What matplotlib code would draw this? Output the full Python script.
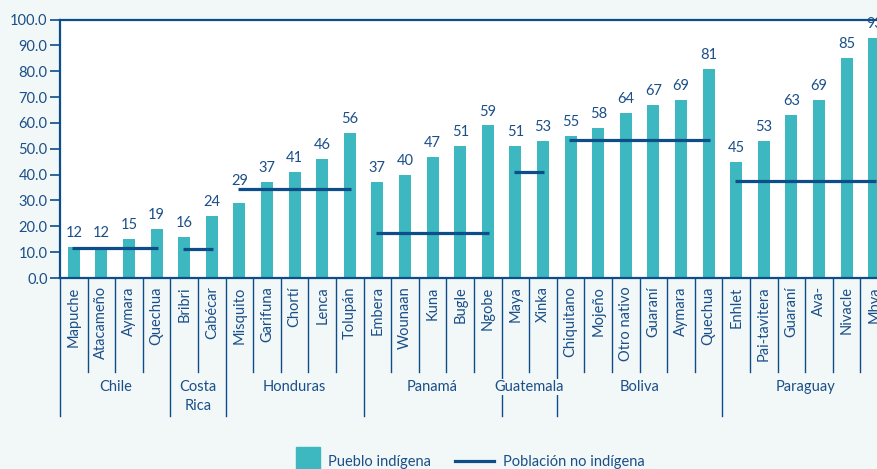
import matplotlib.pyplot as plt
from matplotlib.patches import Rectangle
from matplotlib.lines import Line2D

plt.rcParams['font.family'] = ['Lato', 'DejaVu Sans']

# data
groups = ["Chile", "Costa\nRica", "Honduras", "Panamá", "Guatemala", "Boliva", "Paraguay"]
group_sizes = [4, 2, 5, 5, 2, 6, 6]
pueblos = ["Mapuche", "Atacameño", "Aymara", "Quechua",
           "Bribri", "Cabécar",
           "Misquito", "Garifuna", "Chortí", "Lenca", "Tolupán",
           "Embera", "Wounaan", "Kuna", "Bugle", "Ngobe",
           "Maya", "Xinka",
           "Chiquitano", "Mojeño", "Otro nativo", "Guaraní", "Aymara", "Quechua",
           "Enhlet", "Pai-tavitera", "Guaraní", "Ava-", "Nivacle", "Mbya"]
indigena = [12, 12, 15, 19,
            16, 24,
            29, 37, 41, 46, 56,
            37, 40, 47, 51, 59,
            51, 53,
            55, 58, 64, 67, 69, 81,
            45, 53, 63, 69, 85, 93]
no_indigena = [11.5, 11.3, 34.5, 17.3, 41.0, 53.2, 37.7]

BG = '#f2f7f8'
TEAL = '#3db8c0'
NAVY = '#0d4d89'
TXT = '#1b4f88'
FS = 10.5

fig = plt.figure(figsize=(8.77, 4.69), dpi=100, facecolor=BG)
ax = fig.add_axes([60 / 877, 191 / 469, 828 / 877, 258.5 / 469])
ax.set_facecolor('white')

x = list(range(len(indigena)))
ax.bar(x, indigena, width=0.44, color=TEAL, zorder=2)
for xi, v in zip(x, indigena):
    # the Misquito label sits a bit higher, clear of the Honduras line
    off = 11 if xi == 6 else 5
    ax.annotate(f"{v:.0f}", (xi, v), xytext=(0, off), textcoords='offset points',
                ha='center', va='bottom', fontsize=FS, color=TXT, clip_on=False)

# non-indigenous reference lines per country
start = 0
bounds = [-0.5]
for size, val in zip(group_sizes, no_indigena):
    ax.hlines(val, start - 0.05, start + size - 1 + 0.05, color=NAVY, lw=2.3, zorder=3)
    start += size
    bounds.append(start - 0.5)

ax.set_xlim(-0.5, len(indigena) - 0.5)
ax.set_ylim(0, 100)
ax.set_yticks(range(0, 101, 10))
ax.set_yticklabels([f"{t:.1f}" for t in range(0, 101, 10)])
ax.tick_params(axis='y', direction='out', length=7, width=1.2, color=NAVY,
               labelcolor=TXT, labelsize=FS, pad=2)

ax.set_xticks(x)
ax.set_xticklabels(pueblos, rotation=90, va='top', ha='center')
ax.tick_params(axis='x', length=0, pad=6, labelcolor=TXT, labelsize=FS)

for side in ['left', 'bottom', 'top']:
    ax.spines[side].set_color(NAVY)
    ax.spines[side].set_linewidth(1.6)
ax.spines['right'].set_visible(False)

# separators under the axis
trans = ax.get_xaxis_transform()
for i in range(len(indigena) + 1):
    xb = i - 0.5
    ybot = -0.534 if xb in bounds else -0.364
    ax.plot([xb, xb], [0, ybot], transform=trans, color=NAVY, lw=1.0,
            clip_on=False, zorder=1)

for g, a, b in zip(groups, bounds[:-1], bounds[1:]):
    ax.text((a + b) / 2, -0.395, g, transform=trans, ha='center', va='top',
            fontsize=FS, color=TXT, linespacing=1.45, zorder=5,
            bbox=dict(facecolor=BG, edgecolor='none', pad=0.5))

# legend drawn by hand
fig.add_artist(Rectangle((296 / 877, -3 / 469), 24 / 877, 25 / 469,
                         transform=fig.transFigure, color=TEAL))
fig.text(328 / 877, 7 / 469, "Pueblo indígena", ha='left', va='center',
         fontsize=FS, color=TXT)
fig.add_artist(Line2D([455 / 877, 494 / 877], [8 / 469, 8 / 469],
                      transform=fig.transFigure, color=NAVY, lw=2.3))
fig.text(503 / 877, 7 / 469, "Población no indígena", ha='left', va='center',
         fontsize=FS, color=TXT)

fig.savefig('out.png', dpi=100, facecolor=BG)
